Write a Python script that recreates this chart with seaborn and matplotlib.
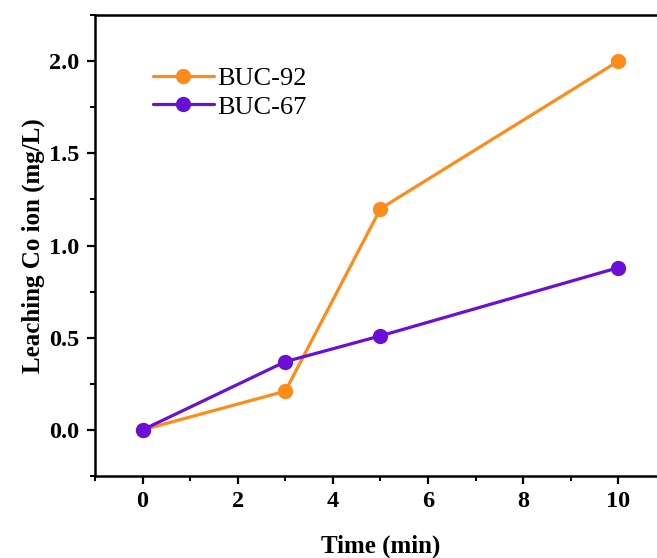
import matplotlib
matplotlib.use("Agg")
import matplotlib.pyplot as plt
import seaborn as sns
import pandas as pd
from matplotlib.ticker import MultipleLocator

time_min = [0, 3, 5, 10]
buc92 = [0.0, 0.21, 1.20, 2.00]
buc67 = [0.0, 0.37, 0.51, 0.88]
series_names = ["BUC-92", "BUC-67"]
colors = ["#FF8C1A", "#6A0FD6"]

df = pd.DataFrame({
    "Time": time_min * 2,
    "Co": buc92 + buc67,
    "Sample": [series_names[0]] * len(time_min) + [series_names[1]] * len(time_min),
})

sns.set_style("ticks")
plt.rcParams['font.family'] = ['Liberation Serif', 'DejaVu Serif']
plt.rcParams['text.color'] = 'black'
plt.rcParams['axes.labelcolor'] = 'black'
plt.rcParams['xtick.color'] = 'black'
plt.rcParams['ytick.color'] = 'black'

fig = plt.figure(figsize=(6.57, 5.58), dpi=100)
ax = fig.add_axes([0.1446, 0.147, 0.869, 0.826])

sns.lineplot(data=df, x="Time", y="Co", hue="Sample", palette=colors,
             marker="o", markersize=11, markeredgewidth=0, linewidth=2.3,
             ax=ax, legend=True)

ax.set_xlim(-1, 11)
ax.set_ylim(-0.25, 2.25)
ax.xaxis.set_major_locator(MultipleLocator(2))
ax.xaxis.set_minor_locator(MultipleLocator(1))
ax.yaxis.set_minor_locator(MultipleLocator(0.25))
ax.set_yticks([0.0, 0.5, 1.0, 1.5, 2.0])
ax.set_yticklabels(["0.0", "0.5", "1.0", "1.5", "2.0"])

for s in ["left", "bottom", "top"]:
    ax.spines[s].set_linewidth(1.8)
    ax.spines[s].set_color("black")
ax.spines["right"].set_visible(False)

ax.tick_params(which="major", direction="out", length=6, width=1.6, labelsize=17.5, pad=5)
ax.tick_params(which="minor", direction="out", length=3.5, width=1.4)
ax.tick_params(top=False, right=False, which="both")
for lab in ax.get_xticklabels() + ax.get_yticklabels():
    lab.set_fontweight("bold")

ax.set_xlabel("Time (min)", fontsize=18, fontweight="bold", labelpad=16)
ax.set_ylabel("Leaching Co ion (mg/L)", fontsize=18, fontweight="bold", labelpad=3)

leg = ax.legend(loc="upper left", bbox_to_anchor=(0.06, 0.94), frameon=False,
                fontsize=19, handlelength=2.3, handletextpad=0.15, labelspacing=0.2)

fig.savefig("out.png", dpi=100)
